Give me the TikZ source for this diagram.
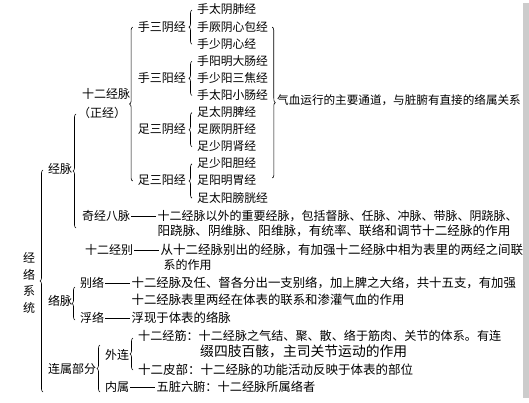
\documentclass[tikz,border=0pt]{standalone}
\usepackage{fontspec}
\setmainfont{Noto Sans CJK SC}
\usetikzlibrary{positioning,decorations.pathreplacing}
\tikzset{
  txt/.style   = {anchor=west, inner sep=0pt, font=\fontsize{12}{14}\selectfont,
                  text height=10pt, text depth=2pt},
  wide/.style  = {txt, font=\fontsize{#1}{14}\selectfont},
  curly/.style = {decorate, decoration={brace, amplitude=3pt}, line width=0.6pt},
  rule/.style  = {line width=0.6pt, shorten >=1pt, shorten <=1pt}
}

\begin{document}
\begin{tikzpicture}[x=1pt, y=-1pt, node distance=27pt]
  \useasboundingbox (0,0) rectangle (529,403);
  \fill[black!20] (523,3) rectangle (529,398);

  \node[anchor=center, inner sep=0pt, align=center,
        font=\fontsize{12}{16.7}\selectfont] (jlxt) at (29,283) {经\\络\\系\\统};
  \node[txt] (jm) at (48,170) {经脉};
  \node[txt] (lm) at (48,301) {络脉};
  \node[txt] (lsbf) at (48,369) {连属部分};

  % twelve channels
  \node[txt] (sejm) at (82,95) {十二经脉};
  \node[txt] (zj) at (78,114) {（正经）};
  \foreach \name [count=\k] in {手太阴肺经,手厥阴心包经,手少阴心经,手阳明大肠经,
      手少阳三焦经,手太阳小肠经,足太阴脾经,足厥阴肝经,足少阴肾经,足少阳胆经,
      足阳明胃经,足太阳膀胱经}
    \node[wide=11.8] (i\k) at (197,{10+17.1*(\k-1)}) {\name};
  \node[txt, left=11pt of i2] (s1) {手三阴经};
  \node[txt, left=11pt of i5] (s2) {手三阳经};
  \node[txt, left=11pt of i8] (s3) {足三阴经};
  \node[txt, left=11pt of i11] (s4) {足三阳经};
  \node[wide=11.6] (gen) at (277,101) {气血运行的主要通道，与脏腑有直接的络属关系};

  \draw[curly] ([xshift=-5pt]i3.west) -- ([xshift=-5pt]i1.west);
  \draw[curly] ([xshift=-5pt]i6.west) -- ([xshift=-5pt]i4.west);
  \draw[curly] ([xshift=-5pt]i9.west) -- ([xshift=-5pt]i7.west);
  \draw[curly] ([xshift=-5pt]i12.west) -- ([xshift=-5pt]i10.west);
  \draw[curly] ([xshift=-5pt]s4.west) -- ([xshift=-5pt]s1.west);
  \draw[curly] ([xshift=4pt]i2.east) -- ([xshift=16pt,yshift=3pt]i11.east);

  % other vessels
  \node[txt] (qjbm) at (82,216) {奇经八脉};
  \node[txt, right=of qjbm] (qjd1) {十二经脉以外的重要经脉，包括督脉、任脉、冲脉、带脉、阴跷脉、};
  \node[wide=12.6, below=3pt of qjd1.south west, anchor=north west] (qjd2)
    {阳跷脉、阴维脉、阳维脉，有统率、联络和调节十二经脉的作用};
  \draw[rule] (qjbm) -- (qjd1);

  \node[txt] (sejb) at (85,250) {十二经别};
  \node[wide=12.5, right=of sejb] (jbd1) {从十二经脉别出的经脉，有加强十二经脉中相为表里的两经之间联};
  \node[txt, below=3pt of jbd1.south west, anchor=north west, xshift=3pt] (jbd2) {系的作用};
  \draw[rule] (sejb) -- (jbd1);

  \draw[curly] ([xshift=-6pt,yshift=-12pt]qjbm.west) -- ([xshift=-2pt]zj.west);

  % collaterals
  \node[txt] (bl) at (80,283) {别络};
  \node[wide=12.4, right=of bl] (bld1) {十二经脉及任、督各分出一支别络，加上脾之大络，共十五支，有加强};
  \node[wide=12.4, below=5pt of bld1.south west, anchor=north west] (bld2)
    {十二经脉表里两经在体表的联系和渗灌气血的作用};
  \node[txt] (fl) at (80,318) {浮络};
  \node[wide=12.4, right=of fl] (fld) {浮现于体表的络脉};
  \draw[rule] (bl) -- (bld1);
  \draw[rule] (fl) -- (fld);
  \draw[curly] ([xshift=-5pt,yshift=-2pt]fl.west) -- ([xshift=-5pt,yshift=-4pt]bl.west);

  % connected parts
  \node[txt] (wl) at (105,355) {外连};
  \node[txt] (nsh) at (105,387) {内属};
  \node[wide=12.2, right=of nsh] (nsd) {五脏六腑：十二经脉所属络者};
  \node[wide=12.1] (jj1) at (138,336) {十二经筋：十二经脉之气结、聚、散、络于筋肉、关节的体系。有连};
  \node[wide=13.8] (jj2) at (200,352) {缀四肢百骸，主司关节运动的作用};
  \node[wide=12.5] (pb) at (138,370) {十二皮部：十二经脉的功能活动反映于体表的部位};
  \draw[rule] (nsh) -- (nsd);
  \draw[curly] ([xshift=-5pt]pb.west) -- ([xshift=-5pt,yshift=-2pt]jj1.west);
  \draw[curly] ([xshift=-5pt,yshift=-5pt]nsh.west) -- ([xshift=-5pt,yshift=10pt]wl.west);

  \draw[curly] ([xshift=-5pt,yshift=-23pt]lsbf.west) -- ([xshift=-5pt]jm.west);
\end{tikzpicture}
\end{document}
